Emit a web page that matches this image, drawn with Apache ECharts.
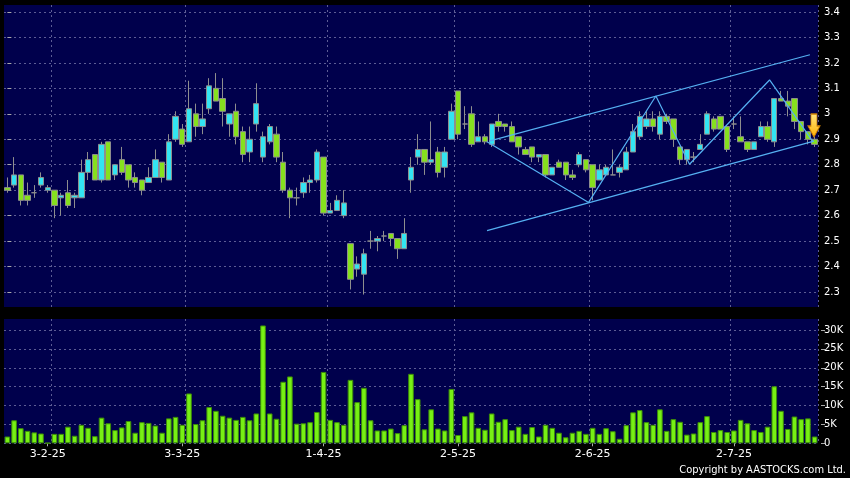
<!DOCTYPE html>
<html><head><meta charset="utf-8">
<script src="https://cdn.jsdelivr.net/npm/echarts@6/dist/echarts.min.js"></script>
<style>html,body{margin:0;padding:0;background:#000;}#c{width:850px;height:478px;}</style>
</head><body><div id="c"></div>
<script>
// [open, close, low, high]
const candles = [
[2.71,2.70,2.69,2.75],[2.72,2.76,2.71,2.83],[2.76,2.66,2.64,2.76],[2.68,2.66,2.64,2.73],[2.69,2.69,2.67,2.72],
[2.72,2.75,2.71,2.77],[2.70,2.71,2.69,2.72],[2.70,2.64,2.59,2.70],[2.67,2.68,2.60,2.69],[2.69,2.64,2.63,2.74],
[2.67,2.68,2.63,2.69],[2.67,2.77,2.67,2.82],[2.77,2.82,2.74,2.85],[2.84,2.74,2.74,2.84],[2.74,2.88,2.73,2.89],
[2.89,2.74,2.74,2.89],[2.76,2.80,2.74,2.80],[2.82,2.77,2.76,2.87],[2.80,2.74,2.71,2.80],[2.75,2.73,2.71,2.77],
[2.74,2.70,2.68,2.74],[2.73,2.75,2.73,2.79],[2.75,2.82,2.75,2.86],[2.81,2.75,2.73,2.81],[2.74,2.89,2.74,2.92],
[2.90,2.99,2.89,3.01],[2.94,2.88,2.87,2.96],[2.89,3.02,2.89,3.13],[3.00,2.95,2.91,3.04],[2.95,2.98,2.92,3.04],
[3.02,3.11,3.00,3.14],[3.10,3.05,3.05,3.16],[3.06,3.01,2.95,3.14],[2.96,3.00,2.91,3.00],[3.01,2.91,2.88,3.04],
[2.93,2.84,2.81,2.95],[2.85,2.90,2.81,2.95],[2.96,3.04,2.93,3.12],[2.83,2.91,2.81,2.93],[2.89,2.95,2.88,2.96],
[2.92,2.83,2.81,2.95],[2.81,2.70,2.69,2.85],[2.70,2.67,2.59,2.71],[2.67,2.67,2.64,2.71],[2.69,2.73,2.67,2.75],
[2.73,2.74,2.69,2.76],[2.74,2.85,2.73,2.86],[2.83,2.61,2.60,2.83],[2.61,2.62,2.61,2.65],[2.62,2.66,2.62,2.68],
[2.60,2.65,2.59,2.70],[2.49,2.35,2.31,2.49],[2.39,2.41,2.36,2.44],[2.37,2.45,2.29,2.47],[2.50,2.50,2.47,2.54],
[2.50,2.51,2.46,2.52],[2.52,2.52,2.50,2.54],[2.53,2.51,2.48,2.53],[2.51,2.47,2.43,2.51],[2.47,2.53,2.47,2.59],
[2.74,2.79,2.69,2.83],[2.83,2.86,2.80,2.92],[2.86,2.81,2.76,2.86],[2.81,2.82,2.80,2.97],[2.85,2.77,2.75,2.87],
[2.79,2.85,2.75,2.87],[2.90,3.01,2.90,3.04],[3.09,2.92,2.90,3.09],[2.96,2.96,2.94,3.03],[3.00,2.88,2.87,3.03],
[2.89,2.91,2.89,2.97],[2.91,2.89,2.88,2.92],[2.88,2.96,2.87,2.96],[2.97,2.95,2.93,3.00],[2.96,2.95,2.93,2.96],
[2.95,2.89,2.89,2.97],[2.91,2.87,2.84,2.91],[2.86,2.84,2.84,2.87],[2.87,2.83,2.81,2.87],[2.83,2.84,2.81,2.84],
[2.84,2.76,2.75,2.84],[2.76,2.79,2.76,2.79],[2.81,2.79,2.79,2.82],[2.81,2.76,2.74,2.81],[2.76,2.75,2.74,2.78],
[2.80,2.84,2.79,2.85],[2.82,2.78,2.77,2.82],[2.80,2.71,2.66,2.80],[2.74,2.78,2.74,2.80],[2.76,2.79,2.76,2.80],
[2.76,2.76,2.76,2.86],[2.77,2.79,2.75,2.80],[2.78,2.85,2.78,2.87],[2.85,2.93,2.85,2.96],[2.91,2.99,2.90,3.01],
[2.95,2.98,2.94,3.01],[2.98,2.95,2.93,3.01],[2.92,2.99,2.90,3.01],[2.99,2.97,2.96,3.00],[2.98,2.90,2.87,2.98],
[2.87,2.82,2.80,2.87],[2.82,2.86,2.80,2.86],[2.83,2.83,2.81,2.85],[2.86,2.88,2.86,2.92],[2.92,3.00,2.92,3.01],
[2.98,2.94,2.93,2.99],[2.99,2.94,2.94,2.99],[2.95,2.86,2.85,2.95],[2.96,2.96,2.94,2.99],[2.91,2.89,2.89,2.99],
[2.89,2.86,2.85,2.89],[2.86,2.89,2.86,2.89],[2.91,2.95,2.91,2.97],[2.95,2.90,2.89,2.97],[2.89,3.06,2.87,3.06],
[3.06,3.05,3.05,3.09],[3.05,3.03,2.99,3.09],[3.06,2.97,2.94,3.06],[2.97,2.93,2.90,2.97],[2.93,2.90,2.88,2.93],
[2.90,2.88,2.87,2.91]
];
// volume, thousands of shares
const volumesK = [
1.8,6.1,4.0,3.3,2.9,2.6,0.1,2.5,2.5,4.4,2.0,4.9,4.1,1.9,6.8,5.3,3.5,4.2,5.9,2.8,
5.6,5.4,4.7,2.8,6.6,7.0,4.9,13.2,5.1,6.1,9.6,8.6,7.3,6.8,6.2,7.0,6.1,7.9,31.2,7.9,
6.5,16.3,17.7,5.2,5.3,5.6,8.3,18.9,6.2,5.6,4.9,16.8,10.9,14.7,6.1,3.4,3.4,3.9,2.7,4.8,
18.4,11.7,3.7,9.0,3.9,3.4,14.4,2.2,7.2,8.2,4.1,3.6,7.9,5.7,6.4,3.5,4.4,2.5,4.3,1.8,
4.9,4.1,2.8,1.6,2.8,3.3,2.5,4.1,2.5,4.0,3.2,1.2,4.8,8.2,8.8,5.6,4.9,9.0,3.3,6.4,
5.7,2.3,2.6,5.6,7.2,3.0,3.5,3.0,3.4,6.2,5.3,3.5,3.0,4.4,15.1,8.6,3.8,7.1,6.4,6.6,
1.8
];
const xTickLabels = ['3-2-25','3-3-25','1-4-25','2-5-25','2-6-25','2-7-25'];
const xTickIndex = [6,26,47,67,87,108];      // category carrying each date label
const xGridIndex = [7,27,48,67,87,108];      // category boundary of each vertical grid line
const priceMin = 2.3, priceMax = 3.4, priceStep = 0.1;
const volMax = 30000, volStep = 5000;
// trend annotations in (category position, price)
const channelUpper = [[71.6,2.893],[119.3,3.232]];
const channelLower = [[71.3,2.541],[119.9,2.893]];
const zigzag = [[71.3,2.890],[86.4,2.652],[96.4,3.070],[101.4,2.802],[113.3,3.133],[119.7,2.893]];
const signalArrow = [[119.9,2.954]];

const N = candles.length;
const cats = Array.from({length: N}, (_, i) => {
  const k = xTickIndex.indexOf(i);
  return k >= 0 ? xTickLabels[k] : String(i);
});
const labelSet = new Set(xTickIndex);
const gridSet = new Set(xGridIndex);
const volumes = volumesK.map(v => Math.round(v * 1000));

const NAVY = '#00004c';
const GRIDC = '#5c5c94';
const FONT = 'DejaVu Sans';
const L = 4, R = 32;

const dashed = {show: true, interval: (i) => gridSet.has(i), lineStyle: {color: GRIDC, type: [2, 3], width: 1}};
const hiddenCat = (g) => ({type: 'category', gridIndex: g, data: cats, show: false});

const chart = echarts.init(document.getElementById('c'), null, {renderer: 'canvas'});
chart.setOption({
  backgroundColor: '#000000',
  animation: false,
  grid: [
    {left: L, right: R, top: 5, height: 302, show: true, backgroundColor: NAVY, borderWidth: 0},
    {left: L, right: R, top: 12, height: 280, show: false},
    {left: L, right: R, top: 319, height: 124.3, show: true, backgroundColor: NAVY, borderWidth: 0},
    {left: L, right: R, top: 330, height: 113.3, show: false}
  ],
  xAxis: [
    {type: 'category', gridIndex: 0, data: cats, axisLine: {show: false}, axisTick: {show: false},
     axisLabel: {show: false}, splitLine: dashed},
    hiddenCat(1),
    {type: 'category', gridIndex: 2, data: cats, axisLine: {show: false},
     axisTick: {show: true, alignWithLabel: true, interval: (i) => labelSet.has(i), length: 3, lineStyle: {color: '#aaaaaa'}},
     axisLabel: {show: true, interval: (i) => labelSet.has(i), color: '#ffffff', fontSize: 11, fontFamily: FONT, margin: 5},
     splitLine: dashed},
    hiddenCat(3),
    {type: 'value', gridIndex: 1, min: -0.5, max: N - 0.5, show: false}
  ],
  yAxis: [
    {type: 'value', gridIndex: 0, show: false, min: 0, max: 1},
    {type: 'value', gridIndex: 1, position: 'right', offset: 3, min: priceMin, max: priceMax, interval: priceStep,
     axisLine: {show: false}, axisTick: {show: true, length: 4, lineStyle: {color: '#aaaaaa'}},
     axisLabel: {color: '#ffffff', fontSize: 10, fontFamily: FONT, margin: 3},
     splitLine: {show: true, lineStyle: {color: GRIDC, type: [2, 3], width: 1}}},
    {type: 'value', gridIndex: 2, show: false, min: 0, max: 1},
    {type: 'value', gridIndex: 3, position: 'right', offset: 3, min: 0, max: volMax, interval: volStep,
     axisLine: {show: false}, axisTick: {show: true, length: 4, lineStyle: {color: '#aaaaaa'}},
     axisLabel: {color: '#ffffff', fontSize: 10, fontFamily: FONT, margin: 3,
       formatter: (v) => v === 0 ? '0' : (v / 1000) + 'K'},
     splitLine: {show: true, lineStyle: {color: GRIDC, type: [2, 3], width: 1}}}
  ],
  series: [
    {type: 'candlestick', xAxisIndex: 1, yAxisIndex: 1, data: candles, barWidth: 5.8, clip: false,
     itemStyle: {color: '#33e4f2', color0: '#86e01e', borderColor: '#8e8e8e', borderColor0: '#8e8e8e', borderWidth: 1}},
    {type: 'bar', xAxisIndex: 3, yAxisIndex: 3, data: volumes, barWidth: 5.6, clip: false,
     itemStyle: {color: '#77f014', borderColor: '#3c8c08', borderWidth: 1}},
    {type: 'line', xAxisIndex: 4, yAxisIndex: 1, data: channelUpper, symbol: 'none', silent: true,
     lineStyle: {color: '#55b0f2', width: 1.2}},
    {type: 'line', xAxisIndex: 4, yAxisIndex: 1, data: channelLower, symbol: 'none', silent: true,
     lineStyle: {color: '#55b0f2', width: 1.2}},
    {type: 'line', xAxisIndex: 4, yAxisIndex: 1, data: zigzag, symbol: 'none', silent: true,
     lineStyle: {color: '#55b0f2', width: 1.2}},
    {type: 'scatter', xAxisIndex: 4, yAxisIndex: 1, data: signalArrow, z: 10,
     symbol: 'path://M3,0 L9,0 L9,12 L12,12 L6,23 L0,12 L3,12 Z', symbolSize: [12, 23], symbolKeepAspect: false,
     itemStyle: {color: new echarts.graphic.LinearGradient(0, 0, 0, 1, [{offset: 0, color: '#ffe680'}, {offset: 1, color: '#ffb000'}]),
       borderColor: '#d08000', borderWidth: 1, opacity: 1}}
  ],
  graphic: [
    {type: 'text', right: 4, top: 465, style: {text: 'Copyright by AASTOCKS.com Ltd.', fill: '#ffffff',
      font: '11px "DejaVu Sans Condensed", "Liberation Sans", sans-serif'}}
  ]
});
</script></body></html>
